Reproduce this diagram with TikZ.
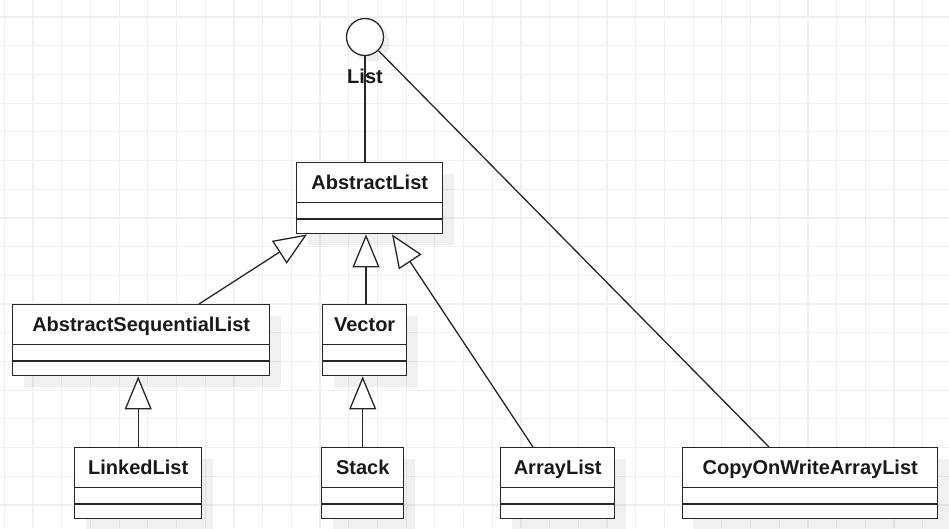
\documentclass[tikz,border=0pt]{standalone}
\usepackage{fontspec}
\setmainfont{Liberation Sans}
\usetikzlibrary{arrows.meta,shadows,calc}
\newcommand\umlclass[5]{%
  \node[cls, minimum width=#4pt] (#1) at (#2,#3) {};
  \draw[divider] ($(#1.north west)+(0,40.5)$) -- ($(#1.north east)+(0,40.5)$);
  \draw[divider] ($(#1.north west)+(0,57)$) -- ($(#1.north east)+(0,57)$);
  \node[lbl, anchor=base] (#1-t) at ($(#1.north)+(0,27.3)$) {#5};
}
\begin{document}
\begin{tikzpicture}[x=1pt,y=-1pt,
  cls/.style={draw=black!85, line width=1.4pt, fill=white, rectangle, anchor=north west,
    minimum height=71pt, inner sep=0pt,
    drop shadow={shadow xshift=11pt, shadow yshift=-11pt, fill=black, opacity=0.06}},
  divider/.style={draw=black!85, line width=1.4pt},
  lbl/.style={font=\fontsize{20}{24}\selectfont\bfseries, text=black!90, inner sep=0pt},
  gridline/.style={draw=black!6, line width=1.2pt},
  gen/.style={draw=black!85, line width=1.3pt, -{Triangle[length=33pt,width=27pt,fill=white]}},
  assoc/.style={draw=black!85, line width=1.3pt}]
\useasboundingbox (0,0) rectangle (949,528);
\fill[white] (0,0) rectangle (949,528);
% grid
\foreach \i in {0,...,32} \draw[gridline] ({4.3+28.7*\i},0) -- ({4.3+28.7*\i},528);
\foreach \j in {0,...,17} \draw[gridline] (0,{17+28.7*\j}) -- (949,{17+28.7*\j});
% interface
\node[circle, draw=black!85, line width=1.3pt, fill=white, minimum size=37pt, inner sep=0pt,
  drop shadow={shadow xshift=6pt, shadow yshift=-6pt, fill=black, opacity=0.06}] (list) at (365,37) {};
% classes
\umlclass{al}{296}{162}{146}{AbstractList}
\umlclass{asl}{12}{304}{257}{AbstractSequentialList}
\umlclass{vec}{322}{304}{84}{Vector}
\umlclass{ll}{74}{447}{127}{LinkedList}
\umlclass{st}{321}{447}{82}{Stack}
\umlclass{arr}{500}{447}{114}{ArrayList}
\umlclass{cow}{682}{447}{255}{CopyOnWriteArrayList}
% connectors
\coordinate (cowtop) at ($(cow.north west)+(87,0)$);
\draw[assoc] (list.south) -- (list.south |- al.north);
\draw[assoc] (list) -- (cowtop);
\node[lbl, anchor=base] (listlbl) at (365,83.3) {List};
\coordinate (asltop) at ($(asl.north west)+(187,0)$);
\coordinate (alsw1) at ($(al.south west)+(11,0)$);
\coordinate (alsw2) at ($(al.south west)+(70,0)$);
\coordinate (alsw3) at ($(al.south west)+(96,0)$);
\coordinate (vectop) at ($(vec.north west)+(44,0)$);
\coordinate (arrtop) at ($(arr.north west)+(33,0)$);
\draw[gen] (asltop) -- (alsw1);
\draw[gen] (vectop) -- (alsw2);
\draw[gen] (arrtop) -- (alsw3);
\draw[gen] (ll.north) -- (ll.north |- asl.south);
\draw[gen] (st.north) -- (st.north |- vec.south);
\end{tikzpicture}
\end{document}
